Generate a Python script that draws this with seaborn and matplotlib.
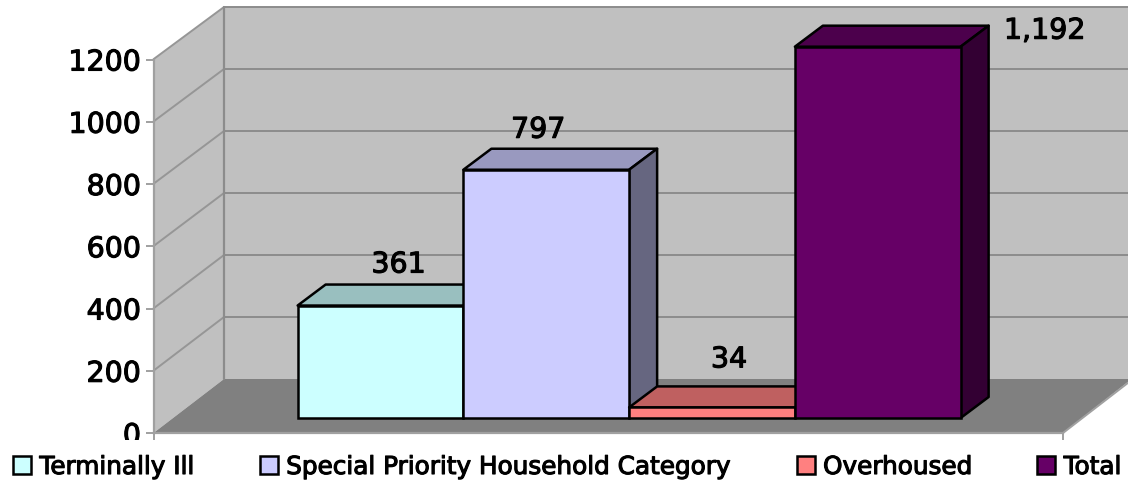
import pandas as pd
import matplotlib
matplotlib.use('Agg')
import matplotlib.pyplot as plt
import matplotlib.patheffects as pe
import seaborn as sns
from matplotlib.patches import Polygon
from matplotlib.transforms import Affine2D, Bbox

sns.set_theme(style='white')
plt.rcParams['font.family'] = ['DejaVu Sans']
plt.rcParams['text.color'] = 'black'

# 차트 값
categories = ['Terminally Ill', 'Special Priority Household Category', 'Overhoused', 'Total']
values = [361, 797, 34, 1192]
colors = ['#CCFFFF', '#CCCCFF', '#FF8080', '#660066']
top_colors = ['#99BFBF', '#9999BF', '#BF6060', '#4C004C']
side_colors = ['#668080', '#666680', '#804040', '#330033']
y_ticks = [0, 200, 400, 600, 800, 1000, 1200]
# 값 라벨 위치 (막대 윗면 중앙 기준, px)
label_offsets = [(18, 41), (-8, 40), (17, 48), (167, 16)]

W, H = 1128, 485
PX_PER_VALUE = 0.3115
BAR_PX = 165.75
DEPTH_PX = (28, 21)
bold = [pe.withStroke(linewidth=0.8, foreground='black')]

fig = plt.figure(figsize=(W / 100, H / 100), dpi=100, facecolor='white')
ax = fig.add_axes([0, 0, 1, 1])

df = pd.DataFrame({'category': categories, 'value': values})
sns.barplot(data=df, x='category', y='value', hue='category', palette=colors, width=1,
            dodge=False, saturation=1, edgecolor='black', linewidth=1.8, ax=ax)

# 막대 축: 첫 막대 중심 x=380.5px, 값 0은 y=419px
ax.set_xlim(-380.5 / BAR_PX, (W - 380.5) / BAR_PX)
ax.set_ylim(-(H - 419) / PX_PER_VALUE, 419 / PX_PER_VALUE)
ax.set_axis_off()

# 벽/바닥은 픽셀 좌표로 그림 (위에서부터 y)
px = Affine2D().scale(1, -1).translate(0, H)
FX, FY = 153.5, 434
BX, BY = 224, 380
WALL_H = 372
ax.add_patch(Polygon([(BX, BY), (W + 5, BY), (W + 5, BY - WALL_H), (BX, BY - WALL_H)],
                     fc='#C0C0C0', ec='none', transform=px, zorder=1))
ax.add_patch(Polygon([(FX, FY), (BX, BY), (BX, BY - WALL_H), (FX, FY - WALL_H - 1.5)],
                     fc='#C0C0C0', ec='none', transform=px, zorder=1))
ax.add_patch(Polygon([(FX, FY), (BX, BY), (W + 5, BY), (W + 5, 379), (1063, FY)],
                     fc='#808080', ec='none', transform=px, zorder=2))
ax.plot([1063, 1133], [FY, FY - 54], color='#A0A0A0', lw=1.4, transform=px, zorder=2, clip_on=False)
for v in y_ticks[1:]:
    dy = v * PX_PER_VALUE
    back = BY - v * WALL_H / 1200
    ax.plot([FX, BX], [FY - dy, back], color='#969696', lw=1.4, transform=px, zorder=3)
    ax.plot([BX, W + 5], [back, back], color='#8C8C8C', lw=1.4, transform=px, zorder=3)
ax.plot([BX, BX], [BY, BY - WALL_H], color='#8C8C8C', lw=1.6, transform=px, zorder=3)

# 막대 윗면/옆면
ddx = DEPTH_PX[0] / BAR_PX
ddy = DEPTH_PX[1] / PX_PER_VALUE
handles = []
for i, container in enumerate(ax.containers):
    bar = container[0]
    handles.append(bar)
    x0 = bar.get_x()
    x1 = x0 + bar.get_width()
    h = bar.get_height()
    bar.set_zorder(10 + 2 * i)
    ax.add_patch(Polygon([(x0, h), (x1, h), (x1 + ddx, h + ddy), (x0 + ddx, h + ddy)],
                         fc=top_colors[i], ec='black', lw=1.8, joinstyle='round', zorder=9 + 2 * i))
    ax.add_patch(Polygon([(x1, 0), (x1 + ddx, ddy), (x1 + ddx, h + ddy), (x1, h)],
                         fc=side_colors[i], ec='black', lw=1.8, joinstyle='round', zorder=9 + 2 * i))
    ax.annotate(f'{values[i]:,}', xy=(i, h), xytext=label_offsets[i], textcoords='offset pixels',
                ha='center', va='center', fontsize=20.5, color='black', zorder=30, path_effects=bold)

# 범례
leg = ax.legend(handles=handles, labels=categories, loc='lower left', bbox_to_anchor=(13 / W, 5 / H),
                ncol=4, frameon=False, fontsize=17.8,
                handlelength=0.73, handleheight=0.73, handletextpad=0.34, columnspacing=2.6,
                borderpad=0, borderaxespad=0, labelspacing=0)
for t in leg.get_texts():
    t.set_path_effects(bold)

# 앞쪽 y축
axis = fig.add_axes([FX / W, (H - FY) / H, (1063 - FX) / W, (FY - 60.5) / H], facecolor='none', zorder=5)
axis.set_xlim(0, 1)
axis.set_ylim(0, 1200)
axis.set_yticks(y_ticks)
axis.set_xticks([0, 1])
axis.set_xticklabels([])
for s in ['top', 'right']:
    axis.spines[s].set_visible(False)
for s in ['left', 'bottom']:
    axis.spines[s].set_color('#A0A0A0')
    axis.spines[s].set_linewidth(1.6)
axis.tick_params(axis='y', length=6, width=1.4, color='#A0A0A0', pad=3, labelsize=20.5, left=True,
                 labelcolor='black')
axis.tick_params(axis='x', length=5, width=1.4, color='#A0A0A0', bottom=True)
for t in axis.get_yticklabels():
    t.set_path_effects(bold)
# 0 라벨 아래쪽은 잘림
zero = axis.get_yticklabels()[0]
zero.set_clip_on(True)
zero.set_clip_box(Bbox([[0, H - 441], [W, H]]))

fig.savefig('out.png', dpi=100)
